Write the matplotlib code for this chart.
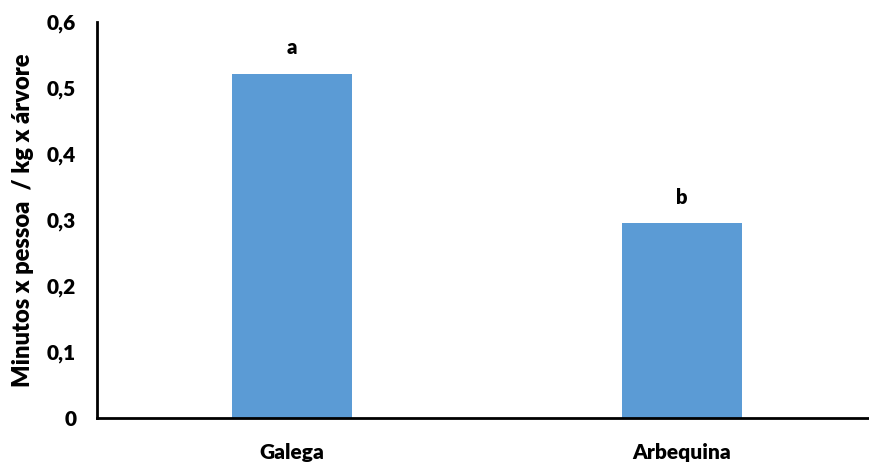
import matplotlib
matplotlib.use("Agg")
import matplotlib.pyplot as plt
from matplotlib.ticker import FuncFormatter

categories = ["Galega", "Arbequina"]
values = [0.521, 0.295]
letters = ["a", "b"]
yticks = [0, 0.1, 0.2, 0.3, 0.4, 0.5, 0.6]

plt.rcParams['font.family'] = ['Lato', 'DejaVu Sans']

W = "heavy"
fig = plt.figure(figsize=(8.69, 4.63), dpi=100)
ax = fig.add_axes([97/869, 1-418/463, 1-97/869, (418-22)/463])

x = list(range(len(categories)))
bars = ax.bar(x, values, width=0.31, color="#5B9BD5", zorder=2)
for xi, v, l in zip(x, values, letters):
    ax.annotate(l, (xi, v), xytext=(0, 12), textcoords="offset points",
                ha="center", va="bottom", fontsize=14.5, fontweight=W)

ax.set_xlim(-0.5, 1 + (869-682)/390)
ax.set_ylim(0, 0.6)
ax.set_yticks(yticks)
ax.yaxis.set_major_formatter(FuncFormatter(lambda v, p: "0" if v == 0 else f"{v:.1f}".replace(".", ",")))
ax.set_xticks(x)
ax.set_xticklabels(categories)
ax.tick_params(axis="y", length=0, labelsize=15, pad=15)
ax.tick_params(axis="x", length=0, labelsize=15, pad=18)
for lbl in ax.get_xticklabels() + ax.get_yticklabels():
    lbl.set_fontweight(W)
ax.spines["top"].set_visible(False)
ax.spines["right"].set_visible(False)
ax.spines["left"].set_linewidth(2)
ax.spines["bottom"].set_linewidth(2)
ax.set_ylabel("Minutos x pessoa  / kg x árvore", fontsize=17, fontweight=W, labelpad=9)

fig.savefig("out.png", dpi=100)
